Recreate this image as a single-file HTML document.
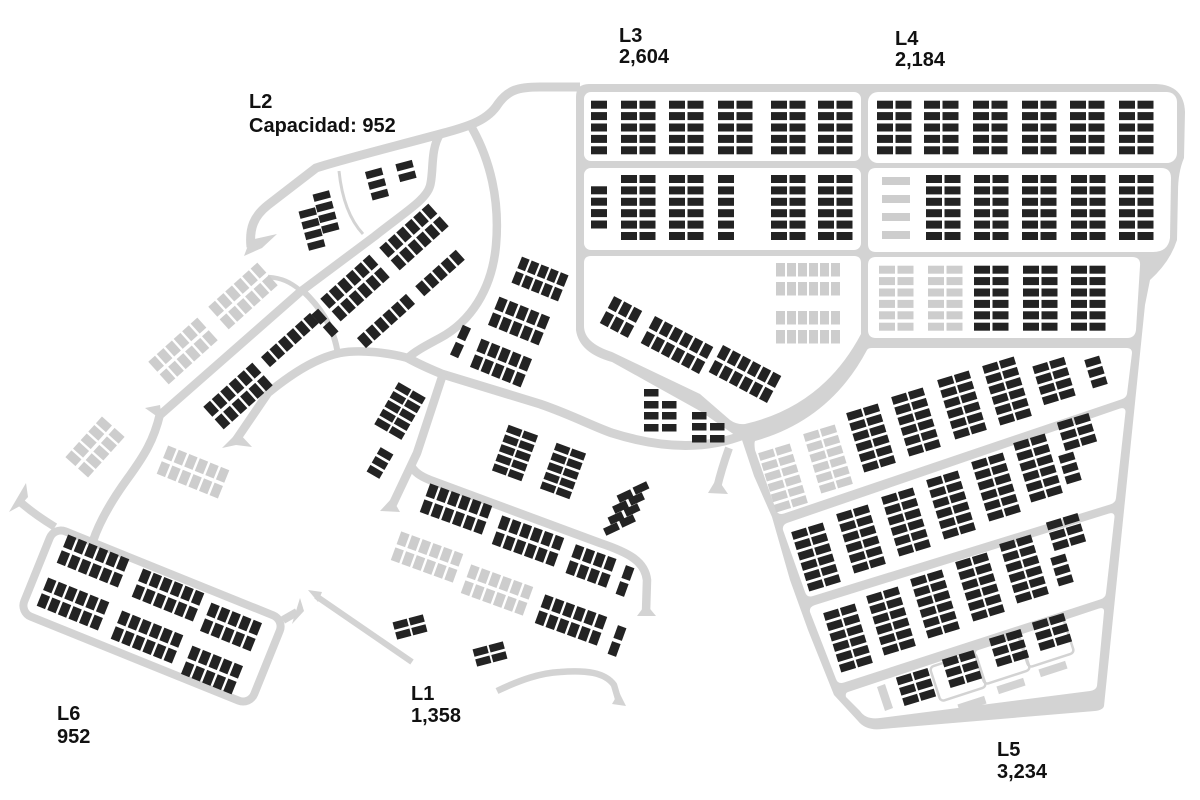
<!DOCTYPE html>
<html><head><meta charset="utf-8">
<style>
html,body{margin:0;padding:0;background:#fff;}
svg{display:block;}
text{font-family:"Liberation Sans",Arial,sans-serif;font-weight:bold;font-size:20px;fill:#111;}
</style></head><body>
<svg width="1200" height="800" viewBox="0 0 1200 800" xmlns="http://www.w3.org/2000/svg">
<defs>
<g id="pr6"><rect x="-33" y="-6.75" width="9" height="13.5"/><rect x="-21.6" y="-6.75" width="9" height="13.5"/><rect x="-10.2" y="-6.75" width="9" height="13.5"/><rect x="1.2" y="-6.75" width="9" height="13.5"/><rect x="12.6" y="-6.75" width="9" height="13.5"/><rect x="24" y="-6.75" width="9" height="13.5"/></g>
<g id="pr5"><rect x="-27.3" y="-6.75" width="9" height="13.5"/><rect x="-15.9" y="-6.75" width="9" height="13.5"/><rect x="-4.5" y="-6.75" width="9" height="13.5"/><rect x="6.9" y="-6.75" width="9" height="13.5"/><rect x="18.3" y="-6.75" width="9" height="13.5"/></g>
<g id="pr4"><rect x="-21.6" y="-6.75" width="9" height="13.5"/><rect x="-10.2" y="-6.75" width="9" height="13.5"/><rect x="1.2" y="-6.75" width="9" height="13.5"/><rect x="12.6" y="-6.75" width="9" height="13.5"/></g>
<g id="pr3"><rect x="-15.9" y="-6.75" width="9" height="13.5"/><rect x="-4.5" y="-6.75" width="9" height="13.5"/><rect x="6.9" y="-6.75" width="9" height="13.5"/></g>
<g id="p26"><use href="#pr6" y="-8.5"/><use href="#pr6" y="8.5"/></g>
<g id="p25"><use href="#pr5" y="-8.5"/><use href="#pr5" y="8.5"/></g>
<g id="p24"><use href="#pr4" y="-8.5"/><use href="#pr4" y="8.5"/></g>
<g id="p23"><use href="#pr3" y="-8.5"/><use href="#pr3" y="8.5"/></g>
<g id="pc2"><rect x="-4.5" y="-15.25" width="9" height="13.5"/><rect x="-4.5" y="1.75" width="9" height="13.5"/></g>

<g id="lc6"><rect x="-7.75" y="-31" width="15.5" height="8"/><rect x="-7.75" y="-20.2" width="15.5" height="8"/><rect x="-7.75" y="-9.4" width="15.5" height="8"/><rect x="-7.75" y="1.4" width="15.5" height="8"/><rect x="-7.75" y="12.2" width="15.5" height="8"/><rect x="-7.75" y="23" width="15.5" height="8"/></g>
<g id="lc5"><rect x="-7.75" y="-25.6" width="15.5" height="8"/><rect x="-7.75" y="-14.8" width="15.5" height="8"/><rect x="-7.75" y="-4" width="15.5" height="8"/><rect x="-7.75" y="6.8" width="15.5" height="8"/><rect x="-7.75" y="17.6" width="15.5" height="8"/></g>
<g id="lc4"><rect x="-7.75" y="-20.2" width="15.5" height="8"/><rect x="-7.75" y="-9.4" width="15.5" height="8"/><rect x="-7.75" y="1.4" width="15.5" height="8"/><rect x="-7.75" y="12.2" width="15.5" height="8"/></g>
<g id="lc3"><rect x="-7.75" y="-14.8" width="15.5" height="8"/><rect x="-7.75" y="-4" width="15.5" height="8"/><rect x="-7.75" y="6.8" width="15.5" height="8"/></g>
<g id="lc2"><rect x="-7.75" y="-9.4" width="15.5" height="8"/><rect x="-7.75" y="1.4" width="15.5" height="8"/></g>
<g id="l26"><use href="#lc6" x="-8.75"/><use href="#lc6" x="8.75"/></g>
<g id="l25"><use href="#lc5" x="-8.75"/><use href="#lc5" x="8.75"/></g>
<g id="l24"><use href="#lc4" x="-8.75"/><use href="#lc4" x="8.75"/></g>
<g id="l23"><use href="#lc3" x="-8.75"/><use href="#lc3" x="8.75"/></g>
<g id="l22"><use href="#lc2" x="-8.75"/><use href="#lc2" x="8.75"/></g>
<rect id="ls" x="-7.5" y="-3.9" width="15" height="7.8"/>

<g id="lw4"><rect x="-8.5" y="-20.25" width="17" height="7.5"/><rect x="-8.5" y="-9.25" width="17" height="7.5"/><rect x="-8.5" y="1.75" width="17" height="7.5"/><rect x="-8.5" y="12.75" width="17" height="7.5"/></g>
<g id="lw3"><rect x="-8.5" y="-14.75" width="17" height="7.5"/><rect x="-8.5" y="-3.75" width="17" height="7.5"/><rect x="-8.5" y="7.25" width="17" height="7.5"/></g>
<g id="lw2"><rect x="-8.5" y="-9.25" width="17" height="7.5"/><rect x="-8.5" y="1.75" width="17" height="7.5"/></g>

<g id="gc4"><rect x="0" y="0" width="16" height="8"/><rect x="0" y="11.4" width="16" height="8"/><rect x="0" y="22.8" width="16" height="8"/><rect x="0" y="34.2" width="16" height="8"/></g>
<g id="gc5"><use href="#gc4"/><rect x="0" y="45.6" width="16" height="8"/></g>
<g id="gc6"><use href="#gc5"/><rect x="0" y="57" width="16" height="8"/></g>
<g id="gp5"><use href="#gc5"/><use href="#gc5" x="18.5"/></g>
<g id="gp6"><use href="#gc6"/><use href="#gc6" x="18.5"/></g>
</defs>

<rect width="1200" height="800" fill="#fff"/>

<g fill="none" stroke="#d3d3d3" stroke-linejoin="round" stroke-linecap="butt">
  <path d="M251,247 C249,228 254,216 268,205 L316,168 C340,160 400,145 444,133 C470,126 488,120 498,104 C508,90 518,87 540,87 L580,87" stroke-width="9"/>
  <path d="M339,171 C342,200 350,220 363,234" stroke-width="3"/>
  <path d="M440,134 C430,150 434,172 430,186 C426,200 405,212 375,236 L300,292 L160,415" stroke-width="8.5"/>
  <path d="M302,290 C318,305 334,325 338,355" stroke-width="6"/>
  <path d="M300,290 C290,282 282,278 268,277" stroke-width="4.5"/>
  <path d="M408,358 C390,353 360,349 340,353 C315,358 290,375 268,393 L236,440" stroke-width="8.5"/>
  <path d="M472,128 C490,160 500,200 496,245 C492,290 470,322 440,338 C425,346 414,352 408,358" stroke-width="8.5"/>
  <path d="M406,357 C420,365 430,369 442,374 L540,404 C572,415 592,426 612,433 C650,445 700,453 746,434" stroke-width="9"/>
  <path d="M729,448 C724,462 720,475 717,488" stroke-width="8"/>
  <path d="M443,374 L417,453 L391,508" stroke-width="8.5"/>
  <path d="M410,464 C414,472 420,476 430,480 L600,543 C630,553 645,562 647,580 L646,612" stroke-width="8.5"/>
  <path d="M316,596 L412,662" stroke-width="6"/>
  <path d="M497,691 C520,680 540,673 560,672 C585,670 605,672 614,685 L619,702" stroke-width="6.5"/>
  <rect x="-124" y="-46" width="248" height="92" rx="12" transform="translate(152,616) rotate(22)" stroke-width="8"/>
  <path d="M93,541 C100,520 112,500 128,478 C144,456 154,440 160,414" stroke-width="8.5"/>
  <path d="M55,527 C42,519 30,511 18,500" stroke-width="8"/>
  <path d="M283,620 L297,612" stroke-width="8"/>
</g>

<g fill="#d3d3d3">
  <polygon points="244,256 250,240 277,234 262,248"/>
  <polygon points="9,512 26,483 28,497 20,506"/>
  <polygon points="292,624 300,598 304,611"/>
  <polygon points="222,448 238,432 252,447 236,445"/>
  <polygon points="708,493 717,478 728,494"/>
  <polygon points="380,511 392,498 400,512"/>
  <polygon points="637,616 646,604 656,616"/>
  <polygon points="308,590 322,592 318,602"/>
  <polygon points="612,704 619,692 626,706"/>
  <polygon points="145,408 160,405 162,420"/>
</g>

<path fill="#d3d3d3" d="M576,97 Q576,84 589,84 L1156,84 Q1184,85 1185,112 L1184,158 Q1178,172 1178,192 L1177,240 Q1170,262 1150,280 L1145,305 L1104,706 Q1103,710 1095,711 L882,729 Q866,731 858,721 L834,695 L808,630 L790,580 L772,517 L754,476 L742,440 L700,411 L612,362 Q579,353 576,330 Z"/>
<g fill="#fff">
  <rect x="584" y="92" width="277" height="69" rx="7"/>
  <rect x="868" y="92" width="309" height="71" rx="10"/>
  <rect x="584" y="168" width="277" height="82" rx="7"/>
  <path d="M876,168 L1161,168 Q1171,168 1171,178 L1170,238 Q1168,252 1153,252 L876,252 Q868,252 868,244 L868,176 Q868,168 876,168 Z"/>
  <path d="M591,256 L854,256 Q861,256 861,263 L861,334 Q823,406 745,424 Q737,425 730,420 L700,394 L612,352 Q584,343 584,326 L584,263 Q584,256 591,256 Z"/>
  <path d="M876,257 L1132,257 Q1141,257 1140,266 L1136,330 Q1135,338 1127,338 L876,338 Q868,338 868,330 L868,265 Q868,257 876,257 Z"/>
  <path d="M755,441 Q830,420 867,350 Q868,348 872,348 L1127,348 Q1132,348 1132,353 L1127,394 Q1126,398 1121,399.5 L784,513.5 Q778,515.5 776,510 L755,450 Q754,443 755,441 Z"/>
  <path d="M787,523 L1120,408.5 Q1125.5,407 1125.5,412 L1116,498 Q1115.5,503 1110,504.5 L813,596 Q807,598 805,592 L783,530 Q782,525 787,523 Z"/>
  <path d="M815,605 L1109,513.5 Q1114.5,512 1114.5,517 L1106,593 Q1105.5,598 1100,599.5 L844,682.5 Q838,684.5 836,679 L810,612 Q809,607 815,605 Z"/>
  <path d="M848,692 L1099,608.5 Q1104.5,607 1104,612 L1097,686 Q1096,690 1090,691 L880,718 Q866,720 860,711 L846,697 Q845,693 848,692 Z"/>
</g>
<g fill="none" stroke="#d3d3d3" stroke-width="2.5">
  <rect x="-24" y="-18" width="48" height="36" rx="4" transform="translate(958,677) rotate(-18)"/>
  <rect x="-24" y="-18" width="48" height="36" rx="4" transform="translate(1002,660) rotate(-18)"/>
  <rect x="-24" y="-18" width="48" height="36" rx="4" transform="translate(1046,643) rotate(-18)"/>
</g>
<g fill="#d3d3d3">
  <polygon points="877,687 885,684 893,708 885,711"/>
  <rect x="-14" y="-4" width="28" height="8" transform="translate(972,704) rotate(-18)"/>
  <rect x="-14" y="-4" width="28" height="8" transform="translate(1011,686) rotate(-18)"/>
  <rect x="-14" y="-4" width="28" height="8" transform="translate(1053,669) rotate(-18)"/>
</g>

<g fill="#cdcdcd">
  <rect x="882" y="177" width="28" height="8"/><rect x="882" y="195" width="28" height="8"/><rect x="882" y="213" width="28" height="8"/><rect x="882" y="231" width="28" height="8"/>
  <use href="#gp6" x="879" y="265.7"/><use href="#gp6" x="928" y="265.7"/>
  <g>
    <rect x="776" y="263" width="9" height="13.5"/><rect x="787" y="263" width="9" height="13.5"/><rect x="798" y="263" width="9" height="13.5"/><rect x="809" y="263" width="9" height="13.5"/><rect x="820" y="263" width="9" height="13.5"/><rect x="831" y="263" width="9" height="13.5"/>
    <rect x="776" y="282" width="9" height="13.5"/><rect x="787" y="282" width="9" height="13.5"/><rect x="798" y="282" width="9" height="13.5"/><rect x="809" y="282" width="9" height="13.5"/><rect x="820" y="282" width="9" height="13.5"/><rect x="831" y="282" width="9" height="13.5"/>
    <rect x="776" y="311" width="9" height="13.5"/><rect x="787" y="311" width="9" height="13.5"/><rect x="798" y="311" width="9" height="13.5"/><rect x="809" y="311" width="9" height="13.5"/><rect x="820" y="311" width="9" height="13.5"/><rect x="831" y="311" width="9" height="13.5"/>
    <rect x="776" y="330" width="9" height="13.5"/><rect x="787" y="330" width="9" height="13.5"/><rect x="798" y="330" width="9" height="13.5"/><rect x="809" y="330" width="9" height="13.5"/><rect x="820" y="330" width="9" height="13.5"/><rect x="831" y="330" width="9" height="13.5"/>
  </g>
  <use href="#l26" transform="translate(783,478) rotate(-17)"/>
  <use href="#l26" transform="translate(828,459) rotate(-17)"/>
  <use href="#p26" transform="translate(243,296) rotate(-42)"/>
  <use href="#p26" transform="translate(183,351) rotate(-42)"/>
  <use href="#p25" transform="translate(95,447) rotate(-48)"/>
  <use href="#p26" transform="translate(193,472) rotate(22)"/>
  <use href="#p26" transform="translate(427,557) rotate(20)"/>
  <use href="#p26" transform="translate(497,590) rotate(20)"/>
</g>

<g fill="#232323">
  <use href="#gc5" x="591" y="100.7"/>
  <use href="#gp5" x="621" y="100.7"/><use href="#gp5" x="669" y="100.7"/><use href="#gp5" x="718" y="100.7"/><use href="#gp5" x="771" y="100.7"/><use href="#gp5" x="818" y="100.7"/>
  <use href="#gp5" x="877" y="100.7"/><use href="#gp5" x="924" y="100.7"/><use href="#gp5" x="973" y="100.7"/><use href="#gp5" x="1022" y="100.7"/><use href="#gp5" x="1070" y="100.7"/><use href="#gp5" x="1119" y="100.7"/>
  <use href="#gc4" x="591" y="186.3"/>
  <use href="#gp6" x="621" y="175"/><use href="#gp6" x="669" y="175"/><use href="#gc6" x="718" y="175"/><use href="#gp6" x="771" y="175"/><use href="#gp6" x="818" y="175"/>
  <use href="#gp6" x="926" y="175"/><use href="#gp6" x="974" y="175"/><use href="#gp6" x="1022" y="175"/><use href="#gp6" x="1071" y="175"/><use href="#gp6" x="1119" y="175"/>
  <use href="#gp6" x="974" y="265.7"/><use href="#gp6" x="1023" y="265.7"/><use href="#gp6" x="1071" y="265.7"/>
  <use href="#p23" transform="translate(621,317) rotate(28)"/>
  <use href="#p26" transform="translate(677,345) rotate(28)"/>
  <use href="#p26" transform="translate(745,374) rotate(28)"/>
  <rect x="644" y="389" width="14.5" height="7.5"/>
  <rect x="644" y="401" width="14.5" height="7.5"/><rect x="662" y="401" width="14.5" height="7.5"/>
  <rect x="644" y="412" width="14.5" height="7.5"/><rect x="662" y="412" width="14.5" height="7.5"/>
  <rect x="644" y="424" width="14.5" height="7.5"/><rect x="662" y="424" width="14.5" height="7.5"/>
  <rect x="692" y="412" width="14.5" height="7.5"/>
  <rect x="692" y="423" width="14.5" height="7.5"/><rect x="710" y="423" width="14.5" height="7.5"/>
  <rect x="692" y="435" width="14.5" height="7.5"/><rect x="710" y="435" width="14.5" height="7.5"/>
  <use href="#p25" transform="translate(540,279) rotate(22) scale(0.92)"/>
  <use href="#p25" transform="translate(519,321) rotate(22)"/>
  <use href="#p25" transform="translate(501,363) rotate(22)"/>
  <rect x="-4.5" y="-7" width="9" height="14" transform="translate(464,333) rotate(25)"/>
  <rect x="-4.5" y="-7" width="9" height="14" transform="translate(457,350) rotate(25)"/>
  <use href="#lw3" transform="translate(377,184) rotate(-15)"/>
  <use href="#lw2" transform="translate(406,171) rotate(-15)"/>
  <use href="#lw4" transform="translate(326,212) rotate(-15)"/>
  <use href="#lw4" transform="translate(312,229) rotate(-15)"/>
  <use href="#p26" transform="translate(414,237) rotate(-42)"/>
  <use href="#p26" transform="translate(355,288) rotate(-42)"/>
  <use href="#pr5" transform="translate(440,273) rotate(-42)"/>
  <use href="#pr6" transform="translate(386,321) rotate(-42)"/>
  <use href="#pr6" transform="translate(290,340) rotate(-42)"/>
  <use href="#pc2" transform="translate(325,323) rotate(-42)"/>
  <use href="#p26" transform="translate(238,396) rotate(-42)"/>
  <use href="#l25" transform="translate(400,411) rotate(30) scale(0.95)"/>
  <use href="#lc3" transform="translate(380,463) rotate(30) scale(0.95)"/>
  <use href="#l25" transform="translate(515,453) rotate(20) scale(0.95)"/>
  <use href="#l25" transform="translate(563,471) rotate(20) scale(0.95)"/>
  <use href="#p26" transform="translate(456,509) rotate(20)"/>
  <use href="#p26" transform="translate(528,541) rotate(20)"/>
  <use href="#p24" transform="translate(591,566) rotate(20)"/>
  <use href="#pc2" transform="translate(625,581) rotate(20)"/>
  <use href="#ls" transform="translate(641,488) rotate(-25)"/>
  <use href="#ls" transform="translate(636.5,499) rotate(-25)"/>
  <use href="#ls" transform="translate(632,510) rotate(-25)"/>
  <use href="#ls" transform="translate(627.5,521) rotate(-25)"/>
  <use href="#ls" transform="translate(625,496) rotate(-25)"/>
  <use href="#ls" transform="translate(620.5,507) rotate(-25)"/>
  <use href="#ls" transform="translate(616,518) rotate(-25)"/>
  <use href="#ls" transform="translate(611.5,529) rotate(-25)"/>
  <use href="#p26" transform="translate(571,620) rotate(20)"/>
  <use href="#pc2" transform="translate(617,641) rotate(20)"/>
  <use href="#l22" transform="translate(410,627) rotate(-15) scale(0.95)"/>
  <use href="#l22" transform="translate(490,654) rotate(-15) scale(0.95)"/>
  <use href="#p26" transform="translate(93,561) rotate(22)"/>
  <use href="#p26" transform="translate(168,595) rotate(22)"/>
  <use href="#p25" transform="translate(231,627) rotate(22)"/>
  <use href="#p26" transform="translate(73,604) rotate(22)"/>
  <use href="#p26" transform="translate(147,637) rotate(22)"/>
  <use href="#p25" transform="translate(212,670) rotate(22)"/>
  <use href="#l26" transform="translate(871,438) rotate(-17)"/>
  <use href="#l26" transform="translate(916,422) rotate(-17)"/>
  <use href="#l26" transform="translate(962,405) rotate(-17)"/>
  <use href="#l26" transform="translate(1007,391) rotate(-17)"/>
  <use href="#l24" transform="translate(1054,381) rotate(-17)"/>
  <use href="#lc3" transform="translate(1096,372) rotate(-17)"/>
  <use href="#l26" transform="translate(816,557) rotate(-17)"/>
  <use href="#l26" transform="translate(861,539) rotate(-17)"/>
  <use href="#l26" transform="translate(906,522) rotate(-17)"/>
  <use href="#l26" transform="translate(951,505) rotate(-17)"/>
  <use href="#l26" transform="translate(996,487) rotate(-17)"/>
  <use href="#l26" transform="translate(1038,468) rotate(-17)"/>
  <use href="#l23" transform="translate(1077,432) rotate(-17)"/>
  <use href="#lc3" transform="translate(1070,468) rotate(-17)"/>
  <use href="#l26" transform="translate(848,638) rotate(-17)"/>
  <use href="#l26" transform="translate(891,621) rotate(-17)"/>
  <use href="#l26" transform="translate(935,604) rotate(-17)"/>
  <use href="#l26" transform="translate(980,587) rotate(-17)"/>
  <use href="#l26" transform="translate(1024,569) rotate(-17)"/>
  <use href="#l23" transform="translate(1066,532) rotate(-17)"/>
  <use href="#lc3" transform="translate(1062,570) rotate(-17)"/>
  <use href="#l23" transform="translate(916,687) rotate(-17)"/>
  <use href="#l23" transform="translate(962,669) rotate(-17)"/>
  <use href="#l23" transform="translate(1009,648) rotate(-17)"/>
  <use href="#l23" transform="translate(1052,632) rotate(-17)"/>
</g>

<text x="619" y="42">L3</text><text x="619" y="63">2,604</text>
<text x="895" y="45">L4</text><text x="895" y="66">2,184</text>
<text x="249" y="108">L2</text><text x="249" y="132">Capacidad: 952</text>
<text x="411" y="700">L1</text><text x="411" y="722">1,358</text>
<text x="57" y="720">L6</text><text x="57" y="743">952</text>
<text x="997" y="756">L5</text><text x="997" y="778">3,234</text>
</svg>
</body></html>
